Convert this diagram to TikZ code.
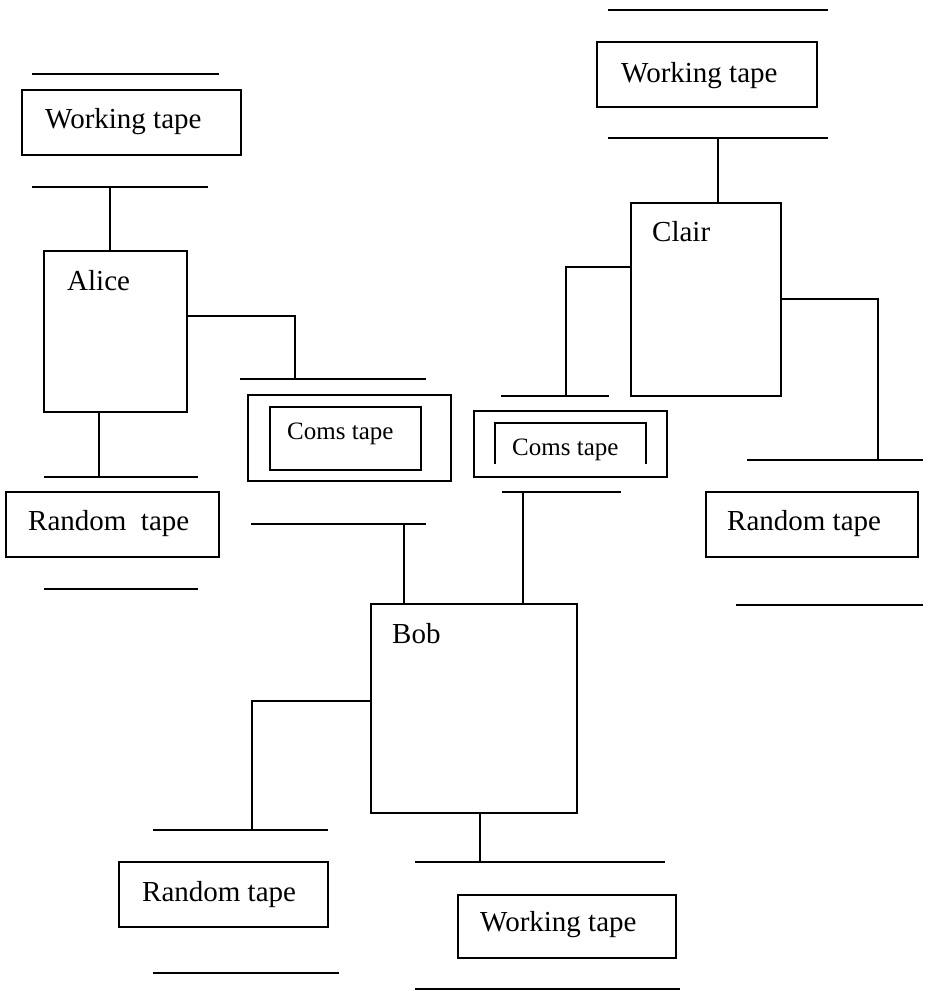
\documentclass[tikz,border=0pt]{standalone}
\usepackage{fontspec}
\setmainfont{Liberation Serif}
\begin{document}
\begin{tikzpicture}[x=1bp,y=-1bp,
  ln/.style={line width=1.8bp, line cap=butt},
  box/.style={draw, line width=1.8bp, rectangle, inner sep=0pt, outer sep=0pt},
  lbl/.style={anchor=base west, inner sep=0pt, font=\fontsize{29bp}{34bp}\selectfont},
  slbl/.style={anchor=base west, inner sep=0pt, font=\fontsize{25bp}{30bp}\selectfont}]
\useasboundingbox (0,0) rectangle (933,991);

% ---------------- Alice ----------------
\coordinate (awtL) at (32,74);  \coordinate (awtR) at (219,74);
\draw[ln] (awtL) -- (awtR);
\node[box, minimum width=219bp, minimum height=65bp] (awbox) at (131.5,122.5) {};
\node[lbl] (awtxt) at (45,128) {Working tape};
\coordinate (awbL) at (32,187); \coordinate (awbR) at (208,187); \coordinate (awJ) at (110,187);
\draw[ln] (awbL) -- (awbR);
\node[box, minimum width=143bp, minimum height=161bp] (alice) at (115.5,331.5) {};
\node[lbl] (alicetxt) at (67,290) {Alice};
\draw[ln] (awJ) -- (awJ |- alice.north);

\coordinate (acL) at (240,379); \coordinate (acR) at (426,379); \coordinate (acJ) at (295,379);
\draw[ln] (acL) -- (acR);
\coordinate (aE) at (295,316);
\draw[ln] (alice.east |- aE) -- (aE) -- (acJ);
\node[box, minimum width=203bp, minimum height=86bp] (coms1) at (349.5,438) {};
\node[box, minimum width=151bp, minimum height=63bp] (coms1in) at (345.5,438.5) {};
\node[slbl] (coms1txt) at (287,439) {Coms tape};

\coordinate (arJ) at (99,477); \coordinate (arL) at (44,477); \coordinate (arR) at (198,477);
\draw[ln] (arL) -- (arR);
\draw[ln] (alice.south -| arJ) -- (arJ);
\node[box, minimum width=213bp, minimum height=65bp] (arbox) at (112.5,524.5) {};
\node[lbl] (artxt) at (28,530) {Random\ \ tape};
\coordinate (arbL) at (44,589); \coordinate (arbR) at (198,589);
\draw[ln] (arbL) -- (arbR);

% ---------------- Clair ----------------
\coordinate (cwtL) at (608,10); \coordinate (cwtR) at (828,10);
\draw[ln] (cwtL) -- (cwtR);
\node[box, minimum width=220bp, minimum height=65bp] (cwbox) at (707,74.5) {};
\node[lbl] (cwtxt) at (621,82) {Working tape};
\coordinate (cwbL) at (608,138); \coordinate (cwbR) at (828,138); \coordinate (cwJ) at (718,138);
\draw[ln] (cwbL) -- (cwbR);
\node[box, minimum width=150bp, minimum height=193bp] (clair) at (706,299.5) {};
\node[lbl] (clairtxt) at (652,241) {Clair};
\draw[ln] (cwJ) -- (cwJ |- clair.north);

\coordinate (ccL) at (501,396); \coordinate (ccR) at (609,396); \coordinate (ccJ) at (566,396);
\draw[ln] (ccL) -- (ccR);
\coordinate (cW) at (566,267);
\draw[ln] (clair.west |- cW) -- (cW) -- (ccJ);
\node[box, minimum width=193bp, minimum height=66bp] (coms2) at (570.5,444) {};
\coordinate (c2a) at (495,464); \coordinate (c2b) at (495,423);
\coordinate (c2c) at (646,423); \coordinate (c2d) at (646,464);
\draw[ln] (c2a) -- (c2b) -- (c2c) -- (c2d);
\node[slbl] (coms2txt) at (512,455) {Coms tape};

\coordinate (crL) at (747,460); \coordinate (crR) at (923,460); \coordinate (crJ) at (878,460);
\draw[ln] (crL) -- (crR);
\coordinate (cE) at (878,299);
\draw[ln] (clair.east |- cE) -- (cE) -- (crJ);
\node[box, minimum width=212bp, minimum height=65bp] (crbox) at (812,524.5) {};
\node[lbl] (crtxt) at (727,530) {Random tape};
\coordinate (crbL) at (736,605); \coordinate (crbR) at (923,605);
\draw[ln] (crbL) -- (crbR);

% ---------------- Bob ----------------
\node[box, minimum width=206bp, minimum height=209bp] (bob) at (474,708.5) {};
\node[lbl] (bobtxt) at (392,643) {Bob};
\coordinate (b1L) at (251,524); \coordinate (b1R) at (426,524); \coordinate (b1J) at (404,524);
\draw[ln] (b1L) -- (b1R);
\draw[ln] (b1J) -- (b1J |- bob.north);
\coordinate (b2L) at (502,492); \coordinate (b2R) at (621,492); \coordinate (b2J) at (523,492);
\draw[ln] (b2L) -- (b2R);
\draw[ln] (b2J) -- (b2J |- bob.north);

\coordinate (bW) at (252,701);
\coordinate (brL) at (153,830); \coordinate (brR) at (328,830); \coordinate (brJ) at (252,830);
\draw[ln] (brL) -- (brR);
\draw[ln] (bob.west |- bW) -- (bW) -- (brJ);
\node[box, minimum width=209bp, minimum height=65bp] (brbox) at (223.5,894.5) {};
\node[lbl] (brtxt) at (142,901) {Random tape};
\coordinate (brbL) at (153,973); \coordinate (brbR) at (339,973);
\draw[ln] (brbL) -- (brbR);

\coordinate (bwL) at (415,862); \coordinate (bwR) at (665,862); \coordinate (bwJ) at (480,862);
\draw[ln] (bwL) -- (bwR);
\draw[ln] (bob.south -| bwJ) -- (bwJ);
\node[box, minimum width=218bp, minimum height=63bp] (bwbox) at (567,926.5) {};
\node[lbl] (bwtxt) at (480,931) {Working tape};
\coordinate (bwbL) at (415,989); \coordinate (bwbR) at (680,989);
\draw[ln] (bwbL) -- (bwbR);
\end{tikzpicture}
\end{document}
